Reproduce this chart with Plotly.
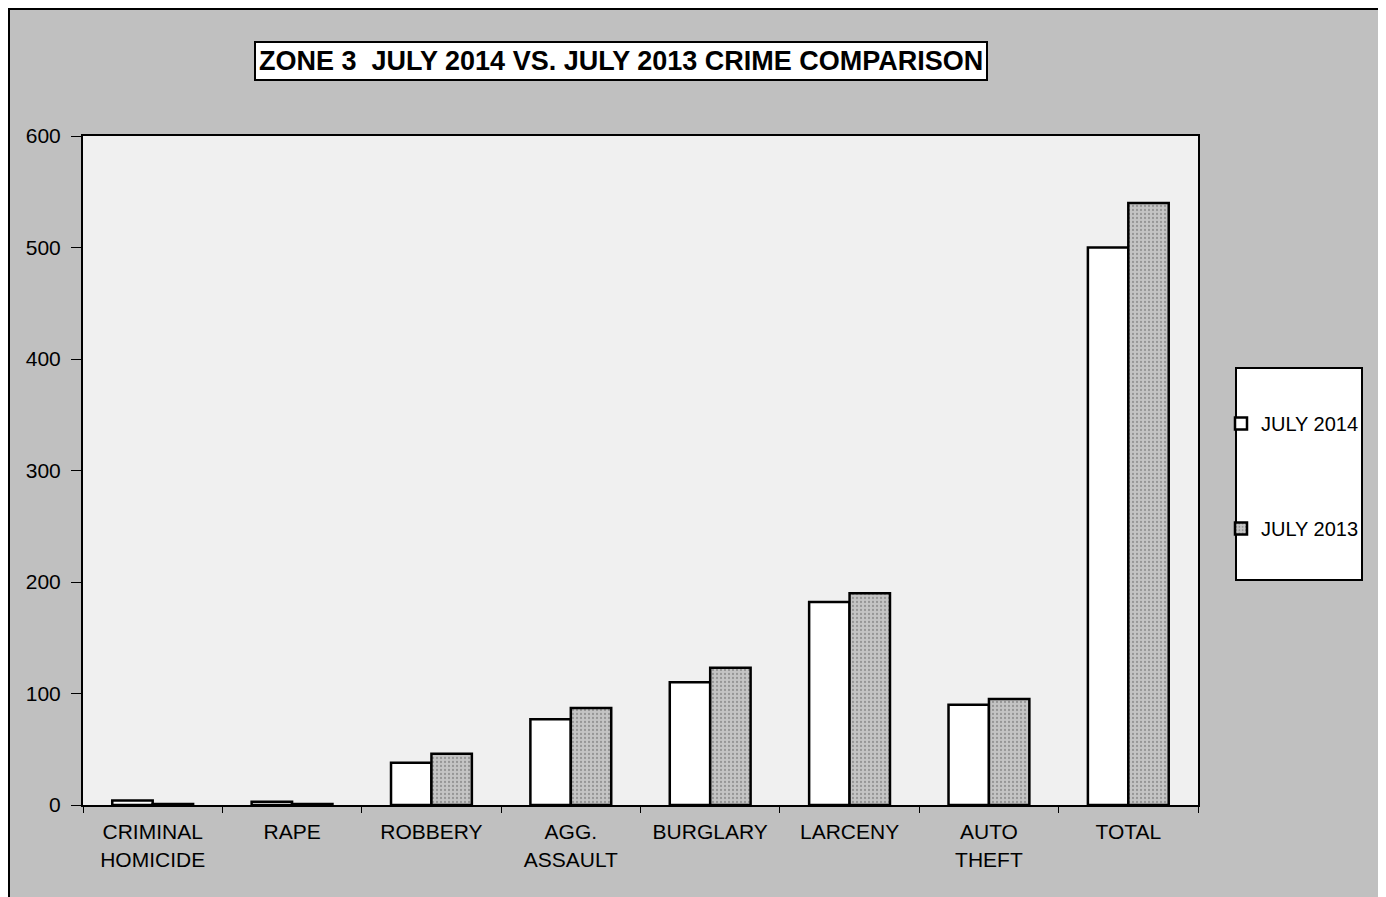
import plotly.graph_objects as go

categories = ["CRIMINAL<br>HOMICIDE", "RAPE", "ROBBERY", "AGG.<br>ASSAULT",
              "BURGLARY", "LARCENY", "AUTO<br>THEFT", "TOTAL"]
july_2014 = [4, 3, 38, 77, 110, 182, 90, 500]
july_2013 = [1, 1, 46, 87, 123, 190, 95, 540]
y_ticks = [0, 100, 200, 300, 400, 500, 600]
title_text = "ZONE 3  JULY 2014 VS. JULY 2013 CRIME COMPARISON"

W, H = 1386, 897
OFF = 8  # page body margin
L, R, T, B = 83 - OFF, 1198 - OFF, 136 - OFF, 805 - OFF
pw, ph = R - L, B - T


def px(x):
    return (x - OFF - L) / pw


def py(y):
    return (B - (y - OFF)) / ph


font = "Arial, Liberation Sans, sans-serif"

fig = go.Figure()
fig.add_trace(go.Bar(
    x=categories, y=july_2014, name="JULY 2014", legendgroup="a",
    marker=dict(color="white", line=dict(color="black", width=2.5)),
))
fig.add_trace(go.Bar(
    x=categories, y=july_2013, name="JULY 2013", legendgroup="b",
    marker=dict(color="#bdbdbd", line=dict(color="black", width=2.5),
                pattern=dict(shape=".", fgcolor="#666666", bgcolor="#c4c4c4",
                             size=4, solidity=0.25)),
))

fig.update_layout(
    width=W, height=H,
    margin=dict(l=L, r=W - R, t=T, b=H - B, autoexpand=False),
    paper_bgcolor="#c0c0c0",
    plot_bgcolor="#f0f0f0",
    barmode="group", bargap=0.42, bargroupgap=0,
    font=dict(family=font, size=20, color="black"),
    showlegend=True,
    legend=dict(x=px(1221), y=py(404), xanchor="left", yanchor="top",
                bgcolor="rgba(0,0,0,0)", borderwidth=0,
                traceorder="grouped", tracegroupgap=76,
                font=dict(family=font, size=20, color="black")),
    xaxis=dict(showline=True, linecolor="black", linewidth=2, mirror=True,
               ticks="outside", tickson="boundaries", ticklen=6,
               tickcolor="black", showgrid=False, ticklabelstandoff=7,
               tickfont=dict(family=font, size=21, color="black")),
    yaxis=dict(range=[0, 600], tickvals=y_ticks, showline=True,
               linecolor="black", linewidth=2, mirror=True,
               ticks="outside", ticklen=10, tickcolor="black",
               showgrid=False, zeroline=False, ticklabelstandoff=6,
               tickfont=dict(family=font, size=21, color="black")),
    shapes=[
        # legend box
        dict(type="rect", xref="paper", yref="paper",
             x0=px(1236), x1=px(1362), y0=py(580), y1=py(368),
             fillcolor="white", line=dict(color="black", width=2),
             layer="below"),
        # scan frame
        dict(type="line", xref="paper", yref="paper",
             x0=px(OFF + 1), x1=px(OFF + 1), y0=py(897 + OFF), y1=py(OFF),
             line=dict(color="black", width=2)),
        dict(type="line", xref="paper", yref="paper",
             x0=px(OFF), x1=px(1386 + OFF), y0=py(OFF + 1), y1=py(OFF + 1),
             line=dict(color="black", width=2)),
    ],
    annotations=[
        dict(text="<b>" + title_text + "</b>", xref="paper", yref="paper",
             x=px(620.5), y=py(61.5), xanchor="center", yanchor="middle",
             showarrow=False, bgcolor="white", bordercolor="black",
             borderwidth=2, borderpad=3,
             font=dict(family=font, size=27, color="black")),
    ],
)

fig.write_html("out.html")
